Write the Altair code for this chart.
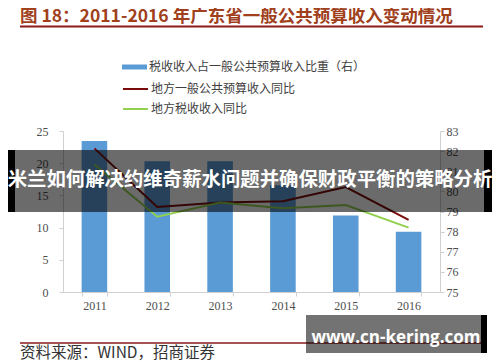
import altair as alt
import pandas as pd

years = ["2011", "2012", "2013", "2014", "2015", "2016"]
tax_share = [82.5, 81.5, 81.5, 80.3, 78.8, 78.0]
general_yoy = [22.3, 13.2, 13.9, 14.1, 16.3, 11.2]
tax_yoy = [19.8, 11.7, 13.9, 13.0, 13.5, 10.0]

bar_name = "税收收入占一般公共预算收入比重（右）"
line_names = ["地方一般公共预算收入同比", "地方税收收入同比"]

title_text = "图 18：2011-2016 年广东省一般公共预算收入变动情况"
source_text = "资料来源：WIND，招商证券"
overlay_text = "米兰如何解决约维奇薪水问题并确保财政平衡的策略分析"
watermark_text = "www.cn-kering.com"

W, H = 377, 161
OX, OY = 63, 131  # plot origin on page


def px(x):
    return x - OX


def py(y):
    return y - OY


bar_df = pd.DataFrame({"year": years, "share": tax_share, "series": [bar_name] * len(years)})
line_df = pd.DataFrame({
    "year": years * 2,
    "value": general_yoy + tax_yoy,
    "series": [line_names[0]] * len(years) + [line_names[1]] * len(years),
})

serif = "Liberation Serif"
cjk = "Noto Sans CJK SC"

xenc = alt.X(
    "year:N",
    sort=years,
    title=None,
    scale=alt.Scale(paddingInner=0.593, paddingOuter=0.2965),
    axis=alt.Axis(labelAngle=0, tickBand="extent", domainColor="#d0d0d0", tickColor="#d0d0d0",
                  tickSize=4, labelPadding=4, labelFont=serif, labelFontSize=12,
                  labelColor="#4d4d4d"),
)

bars = alt.Chart(bar_df).mark_bar(color="#5b9bd5").encode(
    x=xenc,
    y=alt.Y("share:Q", title=None,
            scale=alt.Scale(domain=[75, 83], zero=False, nice=False),
            axis=alt.Axis(orient="right", values=list(range(75, 84)), domainColor="#d0d0d0",
                          tickColor="#d0d0d0", tickSize=4, labelPadding=2, labelFont=serif,
                          labelFontSize=12, labelColor="#4d4d4d", grid=False)),
    y2=alt.datum(75),
    color=alt.Color("series:N", scale=alt.Scale(domain=[bar_name], range=["#5b9bd5"]),
                    legend=alt.Legend(title=None, orient="none", legendX=px(122), legendY=py(54.5),
                                      symbolType="M-1,-0.2H1V0.2H-1Z", symbolSize=625,
                                      symbolStrokeWidth=0, labelFont=cjk, labelFontSize=12,
                                      labelColor="#404040", labelOffset=2, labelLimit=0,
                                      padding=0)),
)

lines = alt.Chart(line_df).mark_line(strokeWidth=2).encode(
    x=xenc,
    y=alt.Y("value:Q", title=None,
            scale=alt.Scale(domain=[0, 25], nice=False),
            axis=alt.Axis(orient="left", values=[0, 5, 10, 15, 20, 25], domainColor="#d0d0d0",
                          tickColor="#d0d0d0", tickSize=4, labelPadding=11, labelFont=serif,
                          labelFontSize=12, labelColor="#4d4d4d", grid=False)),
    color=alt.Color("series:N", sort=line_names,
                    scale=alt.Scale(domain=line_names, range=["#7b0c0c", "#92d050"]),
                    legend=alt.Legend(title=None, orient="none", legendX=px(122), legendY=py(75.5),
                                      symbolType="stroke", symbolSize=625, symbolStrokeWidth=2,
                                      labelFont=cjk, labelFontSize=12, labelColor="#404040",
                                      labelOffset=2, labelLimit=0, rowPadding=-4, padding=0)),
)


def deco(tag):
    return alt.Chart(pd.DataFrame({"tag": [tag]}))


def block(tag, x0, x1, y0, y1, color, op=1.0):
    return deco(tag).mark_rect(fill=color, fillOpacity=op).encode(
        x=alt.value(px(x0)), x2=alt.value(px(x1)), y=alt.value(py(y0)), y2=alt.value(py(y1)))


title = deco("title").mark_text(align="left", baseline="top", font=cjk, fontWeight="bold",
                                fontSize=17.5, color="#a0401c").encode(
    x=alt.value(px(20)), y=alt.value(py(8)), text=alt.value(title_text))
title_rule = deco("trule").mark_rule(color="#8b1a1a", strokeWidth=2).encode(
    x=alt.value(px(20)), x2=alt.value(px(483)), y=alt.value(py(26.5)))

bottom_rule = deco("brule").mark_rule(color="#8b1a1a", strokeWidth=1.5).encode(
    x=alt.value(px(20)), x2=alt.value(px(483)), y=alt.value(py(343)))
source = deco("source").mark_text(align="left", baseline="middle", font=cjk, fontSize=15.5,
                                  color="#333333").encode(
    x=alt.value(px(20)), y=alt.value(py(353)), text=alt.value(source_text))

band_left = block("bl", 0, 15, 150, 212, "#000000")
band_right = block("br", 484, 500, 150, 212, "#000000")
band_mid = block("bm", 15, 484, 150, 212, "#000000", 0.58)
overlay = deco("ov").mark_text(align="center", baseline="middle", font=cjk, fontWeight="bold",
                               fontSize=19.4, color="#ffffff").encode(
    x=alt.value(px(250)), y=alt.value(py(180)), text=alt.value(overlay_text))

wm_box = block("wx", 306, 481, 315, 353, "#000000", 0.55)
wm_black = block("wb", 481, 487, 315, 353, "#000000")
wm_text = deco("wt").mark_text(align="center", baseline="middle", font="Open Sans",
                               fontWeight="bold", fontSize=17, color="#ffffff").encode(
    x=alt.value(px(396)), y=alt.value(py(338)), text=alt.value(watermark_text))

base = alt.layer(bars, lines).resolve_scale(y="independent", color="independent")

chart = alt.layer(
    base, title, title_rule, bottom_rule, source,
    band_left, band_right, band_mid, overlay,
    wm_box, wm_black, wm_text,
).resolve_scale(y="independent", color="independent").properties(
    width=W, height=H,
    autosize=alt.AutoSizeParams(type="none"),
    padding={"left": OX - 8, "top": OY - 8, "right": 492 - (OX + W), "bottom": 362 - (OY + H)},
    background="white",
).configure_view(stroke=None)

chart.save("out.html", embed_options={"renderer": "svg", "actions": False})
